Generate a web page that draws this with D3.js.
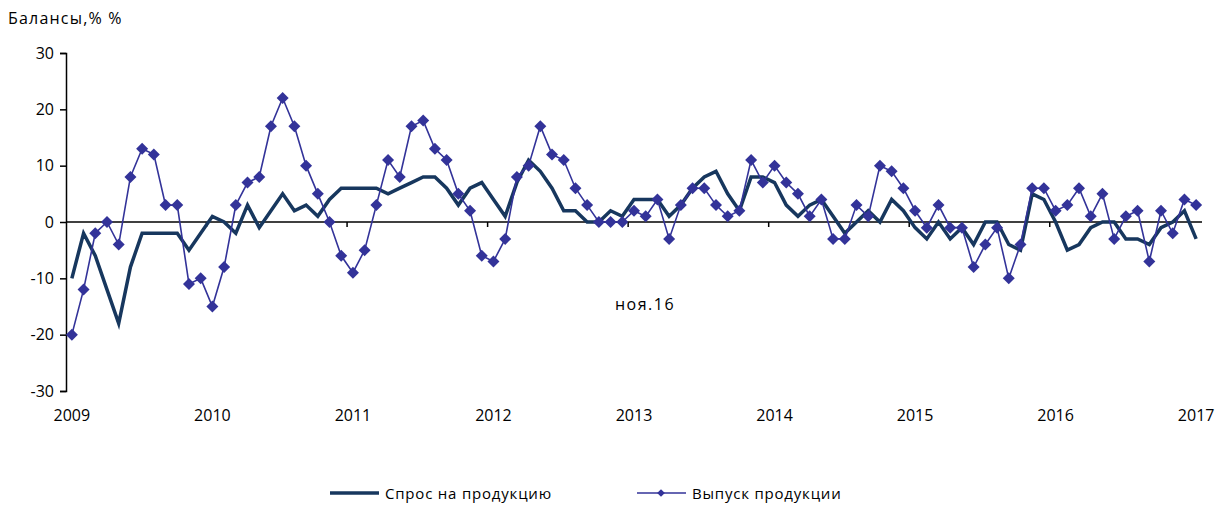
<!DOCTYPE html>
<html lang="ru">
<head>
<meta charset="UTF-8" />
<title>Балансы</title>
<script src="https://d3js.org/d3.v7.min.js"></script>
<style>
  body { margin: 0; background: #fff; }
  svg text { font-family: "Open Sans", "Liberation Sans", sans-serif; fill: #000; }
</style>
</head>
<body>
<svg id="chart" width="1224" height="505"></svg>
<script>
// monthly data, Jan 2009 .. Jan 2017
const years = [2009, 2010, 2011, 2012, 2013, 2014, 2015, 2016, 2017];
const yTicks = [-30, -20, -10, 0, 10, 20, 30];

const demand = [
  -10, -2, -6, -12, -18, -8, -2, -2, -2, -2, -5, -2,
  1, 0, -2, 3, -1, 2, 5, 2, 3, 1, 4, 6,
  6, 6, 6, 5, 6, 7, 8, 8, 6, 3, 6, 7,
  4, 1, 7, 11, 9, 6, 2, 2, 0, 0, 2, 1,
  4, 4, 4, 1, 3, 6, 8, 9, 5, 2, 8, 8,
  7, 3, 1, 3, 4, 1, -2, 0, 2, 0, 4, 2,
  -1, -3, 0, -3, -1, -4, 0, 0, -4, -5, 5, 4,
  0, -5, -4, -1, 0, 0, -3, -3, -4, -1, 0, 2,
  -3
];

const output = [
  -20, -12, -2, 0, -4, 8, 13, 12, 3, 3, -11, -10,
  -15, -8, 3, 7, 8, 17, 22, 17, 10, 5, 0, -6,
  -9, -5, 3, 11, 8, 17, 18, 13, 11, 5, 2, -6,
  -7, -3, 8, 10, 17, 12, 11, 6, 3, 0, 0, 0,
  2, 1, 4, -3, 3, 6, 6, 3, 1, 2, 11, 7,
  10, 7, 5, 1, 4, -3, -3, 3, 1, 10, 9, 6,
  2, -1, 3, -1, -1, -8, -4, -1, -10, -4, 6, 6,
  2, 3, 6, 1, 5, -3, 1, 2, -7, 2, -2, 4,
  3
];

const months = d3.range(demand.length);

const svg = d3.select("#chart");
const plotLeft = 66, plotRight = 1202, plotTop = 53, plotBottom = 391;

const x = d3.scaleBand().domain(months).range([plotLeft, plotRight]).padding(0);
const cx = i => x(i) + x.bandwidth() / 2;
const y = d3.scaleLinear().domain([-30, 30]).range([plotBottom, plotTop]);

// title
svg.append("text")
  .attr("x", 8).attr("y", 24)
  .style("font-size", "16px")
  .style("letter-spacing", "1.2px")
  .text("Балансы,% %");

// y axis
const yAxis = svg.append("g")
  .attr("transform", `translate(${plotLeft},0)`)
  .call(d3.axisLeft(y).tickValues(yTicks).tickSize(6).tickPadding(6));
yAxis.select(".domain").attr("stroke", "#000").attr("stroke-width", 1.5);
yAxis.selectAll(".tick line").attr("stroke", "#000").attr("stroke-width", 1.5);
yAxis.selectAll(".tick text")
  .style("font-size", "16px")
  .style("font-family", "'Open Sans', 'Liberation Sans', sans-serif")
  .text(d => d < 0 ? "-" + Math.abs(d) : d);

// zero line with year ticks
svg.append("line")
  .attr("x1", plotLeft).attr("x2", plotRight)
  .attr("y1", y(0)).attr("y2", y(0))
  .attr("stroke", "#000").attr("stroke-width", 1.5);

const yearIdx = years.map((yr, k) => k * 12);
svg.selectAll(".ytick")
  .data(yearIdx.filter(i => i > 0 && i < months.length))
  .join("line")
  .attr("x1", d => x(d)).attr("x2", d => x(d))
  .attr("y1", y(0)).attr("y2", y(0) + 5)
  .attr("stroke", "#000").attr("stroke-width", 1.5);

svg.selectAll(".ylabel")
  .data(years)
  .join("text")
  .attr("x", (d, k) => cx(k * 12))
  .attr("y", 421)
  .attr("text-anchor", "middle")
  .style("font-size", "16px")
  .text(d => d);

// demand line
svg.append("path")
  .datum(demand)
  .attr("fill", "none")
  .attr("stroke", "#17375e")
  .attr("stroke-width", 3.5)
  .attr("d", d3.line().x((d, i) => cx(i)).y(d => y(d)));

// output line
svg.append("path")
  .datum(output)
  .attr("fill", "none")
  .attr("stroke", "#333399")
  .attr("stroke-width", 1.6)
  .attr("d", d3.line().x((d, i) => cx(i)).y(d => y(d)));

svg.selectAll(".pt")
  .data(output)
  .join("path")
  .attr("transform", (d, i) => `translate(${cx(i)},${y(d)}) rotate(45)`)
  .attr("d", d3.symbol().type(d3.symbolSquare).size(72))
  .attr("fill", "#333399");

// annotation
svg.append("text")
  .attr("x", 645).attr("y", 310)
  .attr("text-anchor", "middle")
  .style("font-size", "16px")
  .style("letter-spacing", "1.5px")
  .text("ноя.16");

// legend
const lg = svg.append("g");
lg.append("line")
  .attr("x1", 330).attr("x2", 379).attr("y1", 493).attr("y2", 493)
  .attr("stroke", "#17375e").attr("stroke-width", 3.5);
lg.append("text")
  .attr("x", 385).attr("y", 499)
  .style("font-size", "15px")
  .style("letter-spacing", "0.8px")
  .text("Спрос на продукцию");
lg.append("line")
  .attr("x1", 637).attr("x2", 686).attr("y1", 493).attr("y2", 493)
  .attr("stroke", "#333399").attr("stroke-width", 1.6);
lg.append("path")
  .attr("transform", "translate(661,493) rotate(45)")
  .attr("d", d3.symbol().type(d3.symbolSquare).size(30))
  .attr("fill", "#333399");
lg.append("text")
  .attr("x", 692).attr("y", 499)
  .style("font-size", "15px")
  .style("letter-spacing", "0.8px")
  .text("Выпуск продукции");
</script>
</body>
</html>
